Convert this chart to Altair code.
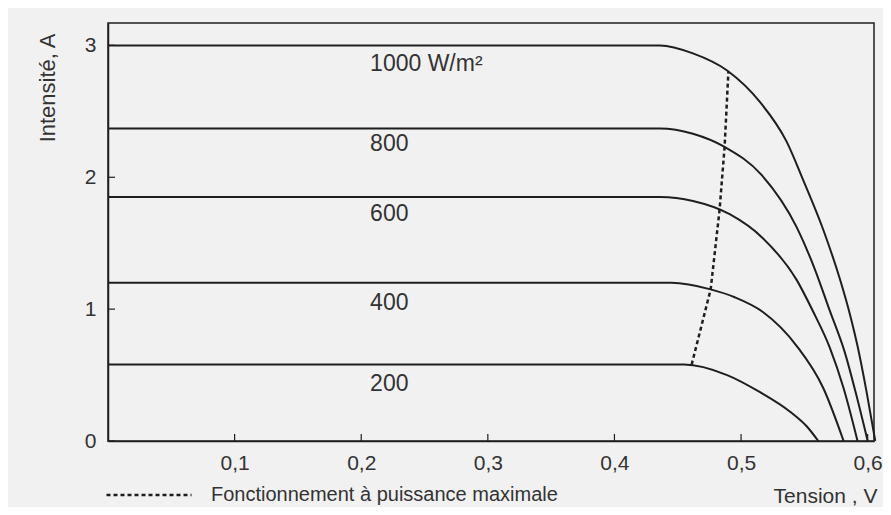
import altair as alt
import pandas as pd

# ---- data ----
irradiance = ["1000", "800", "600", "400", "200"]
V_1000 = [0, 0.436, 0.462, 0.489, 0.515, 0.536, 0.549, 0.565, 0.578, 0.586, 0.592, 0.599, 0.606]
I_1000 = [3.0, 3.0, 2.94, 2.81, 2.57, 2.27, 1.98, 1.60, 1.23, 0.96, 0.72, 0.38, 0]
V_800 = [0, 0.436, 0.462, 0.487, 0.516, 0.544, 0.558, 0.570, 0.582, 0.591, 0.600]
I_800 = [2.37, 2.37, 2.33, 2.23, 2.02, 1.62, 1.31, 0.99, 0.67, 0.35, 0]
V_600 = [0, 0.436, 0.462, 0.491, 0.517, 0.544, 0.557, 0.570, 0.581, 0.592]
I_600 = [1.85, 1.85, 1.82, 1.72, 1.54, 1.22, 0.98, 0.71, 0.40, 0]
V_400 = [0, 0.445, 0.476, 0.495, 0.517, 0.544, 0.565, 0.581]
I_400 = [1.20, 1.20, 1.15, 1.09, 0.98, 0.72, 0.40, 0]
V_200 = [0, 0.455, 0.489, 0.515, 0.539, 0.552, 0.561]
I_200 = [0.58, 0.58, 0.50, 0.37, 0.22, 0.11, 0]

V_mpp = [0.461, 0.476, 0.483, 0.487, 0.490]
I_mpp = [0.58, 1.15, 1.75, 2.23, 2.80]
mpp_label = "Fonctionnement à puissance maximale"

label_text = ["1000 W/m²", "800", "600", "400", "200"]
label_V = [0.207, 0.207, 0.207, 0.207, 0.207]
label_I = [2.86, 2.25, 1.72, 1.05, 0.43]

x_ticks = [0.1, 0.2, 0.3, 0.4, 0.5, 0.6]
y_ticks = [0, 1, 2, 3]

# ---- tables ----
series = {"1000": (V_1000, I_1000), "800": (V_800, I_800), "600": (V_600, I_600),
          "400": (V_400, I_400), "200": (V_200, I_200)}
rows = []
for name in irradiance:
    vs, is_ = series[name]
    for k, (v, i) in enumerate(zip(vs, is_)):
        rows.append({"G": name, "V": v, "I": i, "o": k})
curves = pd.DataFrame(rows)
mpp = pd.DataFrame({"V": V_mpp, "I": I_mpp, "s": mpp_label, "o": range(len(V_mpp))})
labels = pd.DataFrame({"V": label_V, "I": label_I, "t": label_text})
xt = pd.DataFrame({"V": x_ticks})
yt = pd.DataFrame({"I": y_ticks})

FONT = "Liberation Sans"
INK = "#1e1e1e"
TXT = "#333333"

xscale = alt.Scale(domain=[0, 0.605], nice=False, zero=False)
yscale = alt.Scale(domain=[0, 3.17], nice=False)
xaxis = alt.Axis(values=x_ticks, labelExpr="replace(format(datum.value, '.1f'), '.', ',')",
                 ticks=False, grid=False, labelPadding=11, labelFontSize=21, labelColor=TXT,
                 labelFont=FONT, domainColor=INK, domainWidth=1.5,
                 title="Tension , V", titleAnchor="end", titleAlign="right", titleX=769,
                 titleY=61, titleBaseline="alphabetic", titleFontSize=21,
                 titleFontWeight="normal", titleColor=TXT, titleFont=FONT)
yaxis = alt.Axis(values=y_ticks, format="d", ticks=False, grid=False, labelPadding=12,
                 labelFontSize=21, labelColor=TXT, labelFont=FONT, domainColor=INK,
                 domainWidth=1.5, title="Intensité, A", titleAngle=270, titleAnchor="end",
                 titleAlign="right", titleX=-61, titleY=10, titleBaseline="middle",
                 titleFontSize=22, titleFontWeight="normal", titleColor=TXT, titleFont=FONT)


def X():
    return alt.X("V:Q", scale=xscale, axis=xaxis)


def Y():
    return alt.Y("I:Q", scale=yscale, axis=yaxis)


curve_layer = alt.Chart(curves).mark_line(color=INK, strokeWidth=2, interpolate="monotone").encode(
    x=X(), y=Y(), detail="G:N", order="o:Q")

mpp_layer = alt.Chart(mpp).mark_line(color=INK, strokeWidth=2.5).encode(
    x=X(), y=Y(), order="o:Q",
    strokeDash=alt.StrokeDash("s:N", scale=alt.Scale(domain=[mpp_label], range=[[4, 3]]),
                              legend=alt.Legend(orient="none", legendX=-3, legendY=428, title=None,
                                                symbolType="stroke", symbolSize=7225,
                                                symbolStrokeWidth=2.5, symbolStrokeColor=INK,
                                                labelFontSize=20, labelFont=FONT, labelColor=TXT,
                                                labelOffset=18, labelLimit=0, padding=0)))

text_layer = alt.Chart(labels).mark_text(align="left", baseline="middle", fontSize=23, font=FONT,
                                         color=TXT).encode(x=X(), y=Y(), text="t:N")

xtick_layer = alt.Chart(xt).mark_rule(color=INK, strokeWidth=1.2).encode(
    x=X(), y=alt.value(418), y2=alt.value(411))
ytick_layer = alt.Chart(yt).mark_rule(color=INK, strokeWidth=1.2).encode(
    y=Y(), x=alt.value(0), x2=alt.value(7))

chart = alt.layer(curve_layer, mpp_layer, text_layer, xtick_layer, ytick_layer).properties(
    width=766, height=418,
    autosize=alt.AutoSizeParams(type="none"),
    padding={"left": 100, "top": 15, "right": 9, "bottom": 66},
    background="#f1f1f1",
).configure_view(stroke=INK, strokeWidth=1.5)

chart.save("out.html", embed_options={"renderer": "svg", "actions": False})
